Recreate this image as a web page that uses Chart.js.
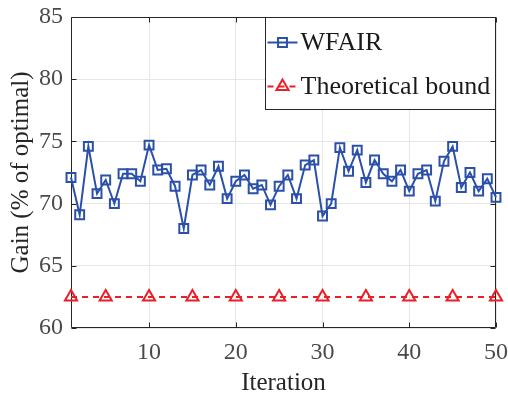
<!DOCTYPE html>
<html><head><meta charset="utf-8">
<script src="https://cdn.jsdelivr.net/npm/chart.js@4/dist/chart.umd.min.js"></script>
<style>html,body{margin:0;padding:0;background:#fff}#wrap{width:508px;height:396px;position:relative}</style>
</head><body><div id="wrap"><canvas id="c"></canvas></div>
<script>
const iterations = [1,2,3,4,5,6,7,8,9,10,11,12,13,14,15,16,17,18,19,20,21,22,23,24,25,26,27,28,29,30,31,32,33,34,35,36,37,38,39,40,41,42,43,44,45,46,47,48,49,50];
const wfair = [72.1,69.1,74.6,70.8,71.9,70.0,72.4,72.4,71.8,74.7,
               72.7,72.8,71.4,68.0,72.3,72.7,71.5,73.0,70.4,71.8,
               72.3,71.2,71.5,69.9,71.4,72.3,70.4,73.1,73.5,69.0,
               70.0,74.5,72.6,74.3,71.7,73.5,72.4,71.8,72.7,71.0,
               72.4,72.7,70.2,73.4,74.6,71.3,72.5,71.0,72.0,70.5];
const boundIterations = [1,5,10,15,20,25,30,35,40,45,50];
const boundValues = [62.5,62.5,62.5,62.5,62.5,62.5,62.5,62.5,62.5,62.5,62.5];
const xTicks = [10,20,30,40,50];
const yTicks = [60,65,70,75,80,85];
const seriesLabels = ['WFAIR','Theoretical bound'];

const BLUE = '#2b50aa', RED = '#ea1f28', FRAME = '#262626';
const FONT = '"Liberation Serif", "Times New Roman", serif';

const framePlugin = {
  id: 'frame',
  beforeDatasetsDraw(chart) {
    const {ctx, chartArea: a, scales: {x, y}} = chart;
    const L = Math.round(a.left) + 0.5, R = Math.round(a.right) - 0.5;
    const T = Math.round(a.top) + 0.5, B = Math.round(a.bottom) - 0.5;
    ctx.save();
    ctx.strokeStyle = FRAME; ctx.lineWidth = 1;
    ctx.beginPath();
    ctx.rect(L, T, R - L, B - T);
    const tl = 5;
    xTicks.forEach(v => {
      const px = Math.round(x.getPixelForValue(v)) + 0.5;
      ctx.moveTo(px, B); ctx.lineTo(px, B - tl);
      ctx.moveTo(px, T); ctx.lineTo(px, T + tl);
    });
    yTicks.forEach(v => {
      const py = Math.round(y.getPixelForValue(v)) + 0.5;
      ctx.moveTo(L, py); ctx.lineTo(L + tl, py);
      ctx.moveTo(R, py); ctx.lineTo(R - tl, py);
    });
    ctx.stroke();
    ctx.restore();
  }
};

const legendPlugin = {
  id: 'boxLegend',
  afterDraw(chart) {
    const {ctx, chartArea: a} = chart;
    const w = 230, h = 92;
    const x0 = Math.round(a.right) - w - 0.5, y0 = Math.round(a.top) + 0.5;
    ctx.save();
    ctx.fillStyle = '#fff';
    ctx.fillRect(x0, y0, w, h);
    ctx.strokeStyle = FRAME; ctx.lineWidth = 1;
    ctx.strokeRect(x0, y0, w, h);
    const rows = [25, 69];
    chart.data.datasets.forEach((ds, i) => {
      const cy = y0 + rows[i];
      ctx.save();
      ctx.strokeStyle = ds.borderColor; ctx.lineWidth = ds.borderWidth;
      ctx.setLineDash(ds.borderDash || []);
      ctx.beginPath(); ctx.moveTo(x0 + 2, cy); ctx.lineTo(x0 + 32, cy); ctx.stroke();
      ctx.setLineDash([]);
      ctx.lineWidth = ds.pointBorderWidth;
      ctx.strokeStyle = ds.pointBorderColor;
      ctx.fillStyle = 'rgba(0,0,0,0)';
      Chart.helpers.drawPoint(ctx, {pointStyle: ds.pointStyle, radius: ds.pointRadius, borderWidth: ds.pointBorderWidth, rotation: 0}, x0 + 17, cy);
      ctx.restore();
      ctx.fillStyle = '#1a1a1a';
      ctx.font = '26px ' + FONT;
      ctx.textBaseline = 'middle';
      ctx.textAlign = 'left';
      ctx.fillText(ds.label, x0 + 35, cy + 1);
    });
    ctx.restore();
  }
};

new Chart(document.getElementById('c'), {
  type: 'line',
  data: {
    datasets: [
      {
        label: seriesLabels[0],
        data: iterations.map((it, i) => ({x: it, y: wfair[i]})),
        borderColor: BLUE, borderWidth: 2,
        pointStyle: 'rect', pointRadius: 6.3, pointBorderWidth: 2,
        pointBorderColor: BLUE, pointBackgroundColor: 'rgba(0,0,0,0)', backgroundColor: 'rgba(0,0,0,0)',
        tension: 0, clip: false, order: 1
      },
      {
        label: seriesLabels[1],
        data: boundIterations.map((it, i) => ({x: it, y: boundValues[i]})),
        borderColor: RED, borderWidth: 2, borderDash: [6, 5],
        pointStyle: 'triangle', pointRadius: 7, pointBorderWidth: 2,
        pointBorderColor: RED, pointBackgroundColor: 'rgba(0,0,0,0)', backgroundColor: 'rgba(0,0,0,0)',
        tension: 0, clip: false, order: 0
      }
    ]
  },
  options: {
    responsive: true, maintainAspectRatio: false, animation: false,
    layout: {padding: {left: 0, top: 17, right: 12, bottom: 0}},
    plugins: {legend: {display: false}, tooltip: {enabled: false}},
    scales: {
      x: {
        type: 'linear', min: 1, max: 50,
        afterBuildTicks: s => { s.ticks = xTicks.map(v => ({value: v})); },
        afterFit: s => { s.height = 68; s.paddingLeft = 0; s.paddingRight = 0; },
        grid: {color: '#e6e6e6', lineWidth: 1, drawTicks: false},
        border: {display: false},
        ticks: {color: '#4a4a4a', font: {family: FONT, size: 24}, padding: 10, maxRotation: 0, autoSkip: false},
        title: {display: true, text: 'Iteration', color: '#262626', font: {family: FONT, size: 25, lineHeight: 1}, padding: {top: 0, bottom: 0}}
      },
      y: {
        type: 'linear', min: 60, max: 85,
        afterBuildTicks: s => { s.ticks = yTicks.map(v => ({value: v})); },
        afterFit: s => { s.width = 71; s.paddingTop = 0; s.paddingBottom = 0; },
        grid: {color: '#e6e6e6', lineWidth: 1, drawTicks: false},
        border: {display: false},
        ticks: {color: '#4a4a4a', font: {family: FONT, size: 24}, padding: 8},
        title: {display: true, text: 'Gain (% of optimal)', color: '#262626', font: {family: FONT, size: 25, lineHeight: 1}, padding: {top: 9, bottom: 0}}
      }
    }
  },
  plugins: [framePlugin, legendPlugin]
});
</script></body></html>
